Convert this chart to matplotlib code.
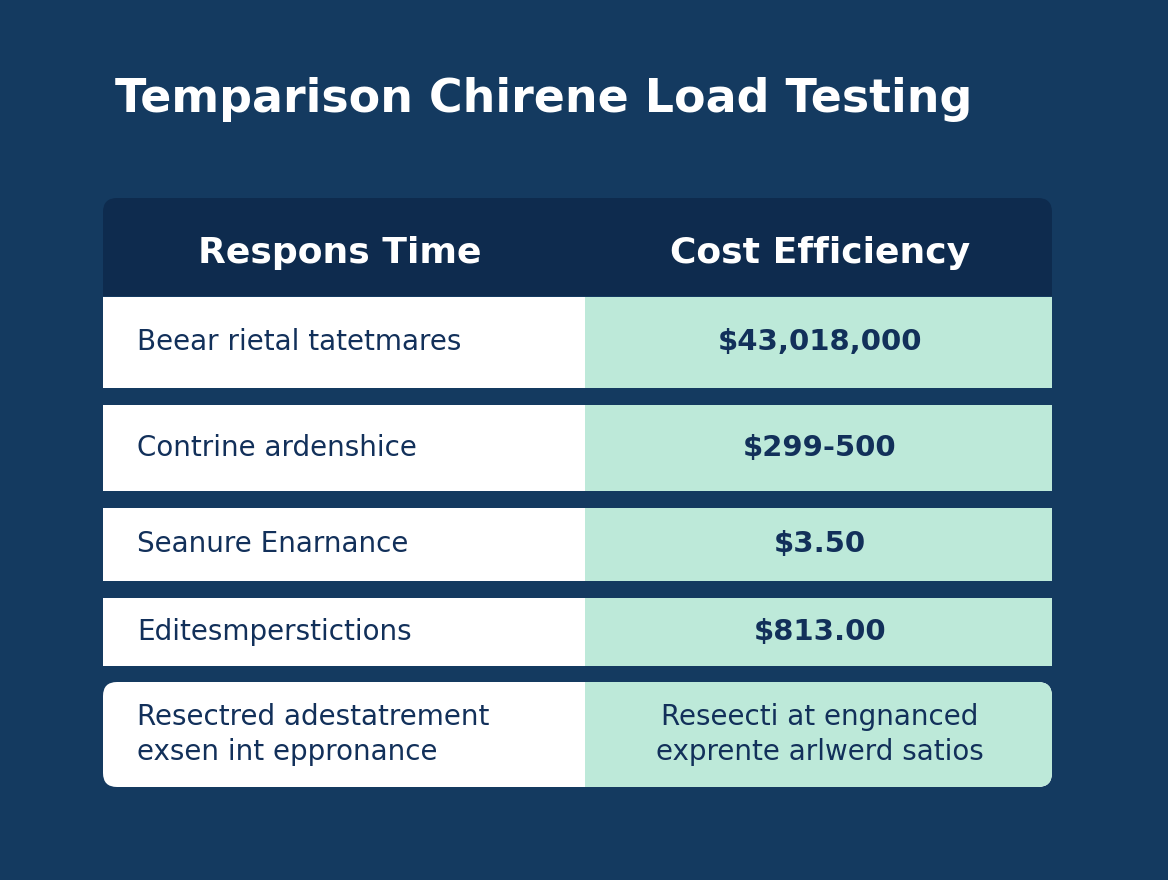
import matplotlib.pyplot as plt
from matplotlib.patches import FancyBboxPatch, Rectangle

title = "Temparison Chirene Load Testing"
headers = ["Respons Time", "Cost Efficiency"]
left_col = ["Beear rietal tatetmares", "Contrine ardenshice", "Seanure Enarnance",
            "Editesmperstictions", "Resectred adestatrement\nexsen int eppronance"]
right_col = ["$43,018,000", "$299-500", "$3.50", "$813.00",
             "Reseecti at engnanced\nexprente arlwerd satios"]
row_top = [297, 405, 508, 598, 682]
row_bot = [388, 491, 581, 666, 787]

fig = plt.figure(figsize=(11.68, 8.8), dpi=100)
fig.patch.set_facecolor("#143a60")
ax = fig.add_axes([0, 0, 1, 1])
ax.set_xlim(0, 1168)
ax.set_ylim(880, 0)
ax.axis("off")

x0, xm, x1 = 103, 585, 1052
navy = "#12305a"

ax.text(115, 100, title, color="white", fontsize=33, fontweight="bold",
        va="center", ha="left", family="DejaVu Sans")

# header band
ax.add_patch(FancyBboxPatch((x0, 198), x1 - x0, 98, boxstyle="round,pad=0,rounding_size=14",
                            fc="#0e2b4e", ec="none"))
ax.add_patch(Rectangle((x0, 260), x1 - x0, 36, fc="#0e2b4e", ec="none"))
for h, cx in zip(headers, [340, 820]):
    ax.text(cx, 253, h, color="white", fontsize=26, fontweight="bold", ha="center", va="center")

for i, (lt, rt, t, b) in enumerate(zip(left_col, right_col, row_top, row_bot)):
    last = i == len(left_col) - 1
    if last:
        ax.add_patch(FancyBboxPatch((x0, t), x1 - x0, b - t, boxstyle="round,pad=0,rounding_size=14",
                                    fc="white", ec="none"))
        ax.add_patch(FancyBboxPatch((xm, t), x1 - xm, b - t, boxstyle="round,pad=0,rounding_size=14",
                                    fc="#bde9d9", ec="none"))
        ax.add_patch(Rectangle((xm, t), 20, b - t, fc="#bde9d9", ec="none"))
    else:
        ax.add_patch(Rectangle((x0, t), xm - x0, b - t, fc="white", ec="none"))
        ax.add_patch(Rectangle((xm, t), x1 - xm, b - t, fc="#bde9d9", ec="none"))
    cy = (t + b) / 2
    ax.text(137, cy, lt, color=navy, fontsize=20, ha="left", va="center", linespacing=1.3)
    ax.text(820, cy, rt, color=navy, fontsize=20 if last else 21,
            fontweight="normal" if last else "bold", ha="center", va="center", linespacing=1.3)

fig.savefig("out.png", dpi=100, facecolor=fig.get_facecolor())
